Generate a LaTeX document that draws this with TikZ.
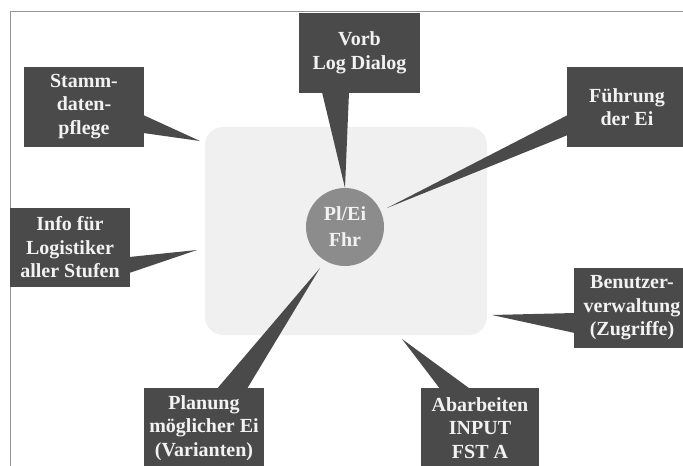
\documentclass[tikz,border=0pt]{standalone}
\usepackage{fontspec}
\setmainfont{Liberation Serif}
\usepackage{tikz}

\definecolor{kastengrau}{RGB}{74,74,74}
\definecolor{schrift}{RGB}{242,242,242}
\definecolor{kreisgrau}{RGB}{140,140,140}
\definecolor{flaeche}{RGB}{240,240,240}
\definecolor{rahmen}{RGB}{150,150,150}

\tikzset{
  kasten/.style={rectangle, fill=kastengrau, text=schrift, align=center,
    font=\fontsize{20}{23.5}\selectfont\bfseries, inner sep=0pt,
    minimum width=120pt, minimum height=80pt},
  spitze/.style={fill=kastengrau},
}

\begin{document}
\begin{tikzpicture}[x=1pt, y=-1pt]
    \useasboundingbox (0,0) rectangle (683,466);
    \clip (0,0) rectangle (683,466);

    % Rahmen und Hintergrund
    \draw[rahmen, line width=0.8pt] (10,480) -- (10,11) -- (690,11);
    \fill[flaeche, rounded corners=18pt] (205,127) rectangle (487,335);

    % Kaesten
    \node[kasten, minimum width=121pt] (vorb) at (359.5,53) {Vorb\\Log Dialog};
    \node[kasten] (stamm) at (84,106.5) {Stamm-\\daten-\\pflege};
    \node[kasten] (fuehrung) at (627,107) {Führung\\der Ei};
    \node[kasten, minimum height=79pt] (info) at (70,247.5) {Info für\\Logistiker\\aller Stufen};
    \node[kasten, minimum width=116pt] (benutzer) at (632,308) {Benutzer-\\verwaltung\\(Zugriffe)};
    \node[kasten] (planung) at (204,428) {Planung\\möglicher Ei\\(Varianten)};
    \node[kasten, minimum width=118pt] (abarbeiten) at (480,428) {Abarbeiten\\INPUT\\FST A};

    % Spitzen
    \coordinate (sVorb) at (345,188);
    \coordinate (sStamm) at (200,141);
    \coordinate (sFuehrung) at (387,208);
    \coordinate (sInfo) at (197,250);
    \coordinate (sBenutzer) at (492,315);
    \coordinate (sPlanung) at (320,268);
    \coordinate (sAbarbeiten) at (402,339);

    \fill[spitze] ([xshift=-37.5pt,yshift=1pt]vorb.south) -- ([xshift=-10.5pt,yshift=1pt]vorb.south) -- (sVorb) -- cycle;
    \fill[spitze] ([xshift=-1pt,yshift=-8.5pt]stamm.east) -- ([xshift=-1pt,yshift=-26.5pt]stamm.east) -- (sStamm) -- cycle;
    \fill[spitze] ([xshift=1pt,yshift=-8pt]fuehrung.west) -- ([xshift=1pt,yshift=-28pt]fuehrung.west) -- (sFuehrung) -- cycle;
    \fill[spitze] ([xshift=-1pt,yshift=-9.5pt]info.east) -- ([xshift=-1pt,yshift=-25.5pt]info.east) -- (sInfo) -- cycle;
    \fill[spitze] ([xshift=1pt,yshift=-5pt]benutzer.west) -- ([xshift=1pt,yshift=-25pt]benutzer.west) -- (sBenutzer) -- cycle;
    \fill[spitze] ([xshift=13pt,yshift=-1pt]planung.north) -- ([xshift=43pt,yshift=-1pt]planung.north) -- (sPlanung) -- cycle;
    \fill[spitze] ([xshift=-40pt,yshift=-1pt]abarbeiten.north) -- ([xshift=-10pt,yshift=-1pt]abarbeiten.north) -- (sAbarbeiten) -- cycle;

    % Mitte
    \node[circle, fill=kreisgrau, text=schrift, align=center, inner sep=0pt,
      minimum size=78pt, font=\fontsize{20}{26}\selectfont\bfseries] (mitte) at (345,227) {Pl/Ei\\Fhr};
\end{tikzpicture}
\end{document}
